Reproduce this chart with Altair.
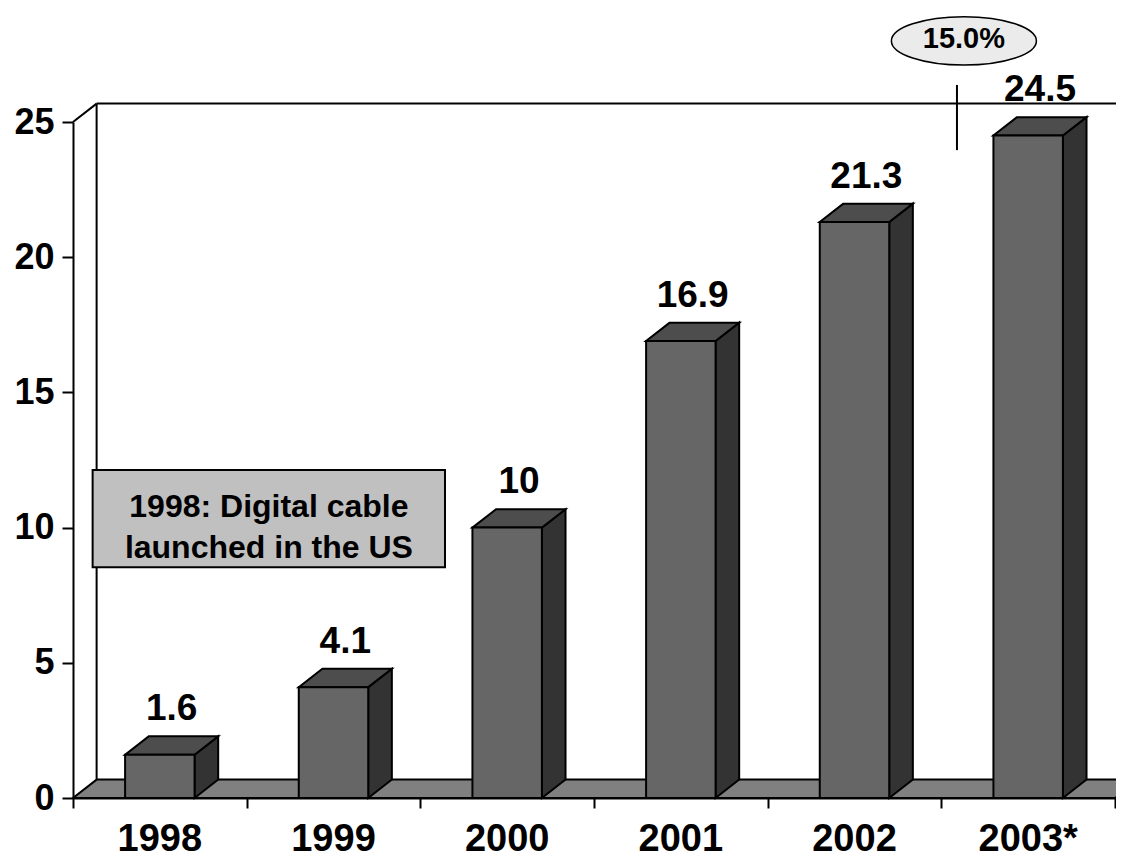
import altair as alt
import pandas as pd

# ---------------- data ----------------
years = ["1998", "1999", "2000", "2001", "2002", "2003*"]
values = [1.6, 4.1, 10, 16.9, 21.3, 24.5]
value_labels = ["1.6", "4.1", "10", "16.9", "21.3", "24.5"]
y_ticks = [0, 5, 10, 15, 20, 25]
x_ticks = [0, 1, 2, 3, 4, 5, 6]
note_lines = ["1998: Digital cable", "launched in the US"]
growth_label = ["15.0%"]

# annotation anchors (data units)
note_box = {"x": 0.113, "x2": 2.142, "y": 12.13, "y2": 8.53}
note_text_x = 1.128
note_text_y = [10.4, 8.86]
growth_xy = (5.13, 28.0)
growth_tick = (5.09, 23.96, 26.37)

# ---------------- style / geometry ----------------
FONT = "Liberation Sans"
HALF = 0.2      # half bar width (category units)
DX = 0.136      # depth offset in x (category units)
DY = 0.68       # depth offset in y (value units)
N = len(years)
YMAX = 25
SW = 2

xs = alt.Scale(domain=[0, N], nice=False, zero=False)
ys = alt.Scale(domain=[0, YMAX], nice=False, zero=False)

AXIS_Y = alt.Axis(values=y_ticks, title="", grid=False, domain=True, domainColor="black",
                  domainWidth=SW, tickColor="black", tickWidth=SW, tickSize=11,
                  labelFont=FONT, labelFontSize=36, labelFontWeight="bold",
                  labelColor="black", labelPadding=8)
AXIS_X = alt.Axis(values=x_ticks, title="", grid=False, labels=False, domain=True,
                  domainColor="black", domainWidth=SW, tickColor="black",
                  tickWidth=SW, tickSize=10)


def X(f):
    return alt.X(f, type="quantitative", scale=xs, axis=AXIS_X)


def Y(f):
    return alt.Y(f, type="quantitative", scale=ys, axis=AXIS_Y)


centers = [i + 0.5 for i in range(N)]

front = pd.DataFrame({
    "bar": years,
    "l": [c - HALF for c in centers],
    "r": [c + HALF for c in centers],
    "v": values,
    "z": [0] * N,
})

top_rows, side_rows = [], []
for yr, c, v in zip(years, centers, values):
    top_rows.append({"bar": yr, "y": v, "x": c - HALF, "x2": c + HALF})
    top_rows.append({"bar": yr, "y": v + DY, "x": c - HALF + DX, "x2": c + HALF + DX})
    side_rows.append({"bar": yr, "x": c + HALF, "y": 0, "y2": v})
    side_rows.append({"bar": yr, "x": c + HALF + DX, "y": DY, "y2": v + DY})
top = pd.DataFrame(top_rows)
side = pd.DataFrame(side_rows)

floor = pd.DataFrame([
    {"y": 0, "x": 0, "x2": N},
    {"y": DY, "x": DX, "x2": N + DX},
])

walls = pd.DataFrame([
    {"x": DX, "x2": DX, "y": DY, "y2": YMAX + DY},
    {"x": DX, "x2": N + DX, "y": YMAX + DY, "y2": YMAX + DY},
    {"x": 0, "x2": DX, "y": YMAX, "y2": YMAX + DY},
])

labels = pd.DataFrame({
    "x": [c + DX / 2 for c in centers],
    "y": [v + DY for v in values],
    "t": value_labels,
})

xlab = pd.DataFrame({"x": centers, "y": [0] * N, "t": years})

# ---------------- layers ----------------
floor_layer = alt.Chart(floor).mark_area(
    orient="horizontal", color="#808080", stroke="black", strokeWidth=SW, opacity=1
).encode(y=Y("y"), x=X("x"), x2="x2:Q")

wall_layer = alt.Chart(walls).mark_rule(color="black", strokeWidth=SW).encode(
    x=X("x"), x2="x2:Q", y=Y("y"), y2="y2:Q"
)

side_layer = alt.Chart(side).mark_area(
    orient="vertical", color="#333333", stroke="black", strokeWidth=SW, opacity=1
).encode(x=X("x"), y=Y("y"), y2="y2:Q", detail="bar:N")

top_layer = alt.Chart(top).mark_area(
    orient="horizontal", color="#4d4d4d", stroke="black", strokeWidth=SW, opacity=1
).encode(y=Y("y"), x=X("x"), x2="x2:Q", detail="bar:N")

front_layer = alt.Chart(front).mark_rect(
    color="#666666", stroke="black", strokeWidth=SW
).encode(x=X("l"), x2="r:Q", y=Y("v"), y2="z:Q")

value_layer = alt.Chart(labels).mark_text(
    font=FONT, fontSize=37, fontWeight="bold", color="black",
    align="center", baseline="alphabetic", dy=-16
).encode(x=X("x"), y=Y("y"), text="t:N")

xlab_layer = alt.Chart(xlab).mark_text(
    font=FONT, fontSize=38, fontWeight="bold", color="black",
    align="center", baseline="alphabetic", dy=53
).encode(x=X("x"), y=Y("y"), text="t:N")

box_layer = alt.Chart(pd.DataFrame([note_box])).mark_rect(
    color="#c0c0c0", stroke="black", strokeWidth=SW
).encode(x=X("x"), x2="x2:Q", y=Y("y"), y2="y2:Q")

box_text_layer = alt.Chart(pd.DataFrame({
    "x": [note_text_x] * len(note_lines), "y": note_text_y, "t": note_lines
})).mark_text(
    font=FONT, fontSize=32, fontWeight="bold", color="black",
    align="center", baseline="alphabetic"
).encode(x=X("x"), y=Y("y"), text="t:N")

ELLIPSE = "M -1 0 A 1 0.333 0 1 1 1 0 A 1 0.333 0 1 1 -1 0 Z"
growth_df = pd.DataFrame({"x": [growth_xy[0]], "y": [growth_xy[1]], "t": growth_label})

ellipse_layer = alt.Chart(growth_df).mark_point(
    shape=ELLIPSE, size=21025, filled=True, fill="#ebebeb", stroke="black",
    strokeWidth=1.5, opacity=1
).encode(x=X("x"), y=Y("y"))

growth_text_layer = alt.Chart(growth_df).mark_text(
    font=FONT, fontSize=29, fontWeight="bold", color="black",
    align="center", baseline="middle", dy=-2
).encode(x=X("x"), y=Y("y"), text="t:N")

growth_tick_layer = alt.Chart(pd.DataFrame({
    "x": [growth_tick[0]], "y": [growth_tick[1]], "y2": [growth_tick[2]]
})).mark_rule(color="black", strokeWidth=SW).encode(
    x=X("x"), y=Y("y"), y2="y2:Q"
)

chart = alt.layer(
    floor_layer, wall_layer, side_layer, top_layer, front_layer,
    value_layer, xlab_layer, box_layer, box_text_layer,
    growth_tick_layer, ellipse_layer, growth_text_layer,
).properties(
    width=1042, height=676,
    padding={"left": 65, "top": 114, "right": 1, "bottom": 62},
    autosize=alt.AutoSizeParams(type="none"),
    background="white",
).configure_view(stroke=None)

chart.save("out.html", embed_options={"renderer": "svg", "actions": False})
